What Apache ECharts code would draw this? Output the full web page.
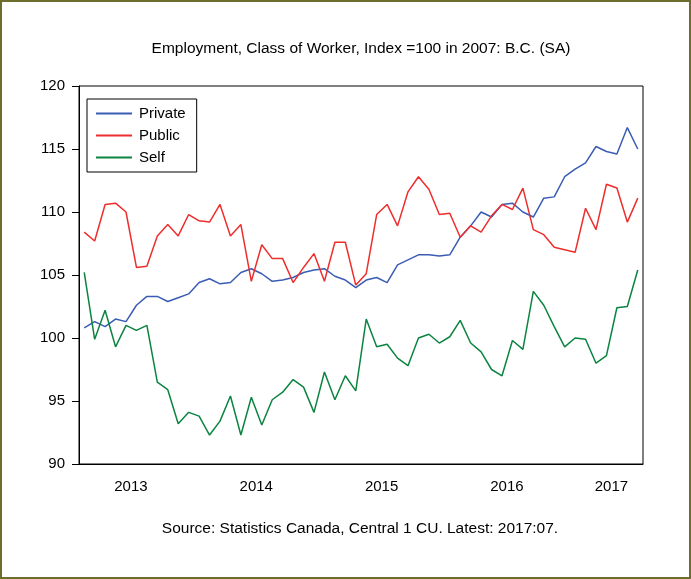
<!DOCTYPE html>
<html>
<head>
<meta charset="utf-8">
<script src="https://cdn.jsdelivr.net/npm/echarts@6/dist/echarts.min.js"></script>
<style>
html, body { margin: 0; padding: 0; background: #fff; }
#frame { width: 691px; height: 579px; box-sizing: border-box; border: 2px solid #6e6e2c; }
#chart { width: 687px; height: 575px; }
</style>
</head>
<body>
<div id="frame"><div id="chart"></div></div>
<script>
// monthly, seasonally adjusted, Feb 2013 .. Jul 2017
var months = [
  '2013:02','2013:03','2013:04','2013:05','2013:06','2013:07','2013:08','2013:09','2013:10','2013:11','2013:12',
  '2014:01','2014:02','2014:03','2014:04','2014:05','2014:06','2014:07','2014:08','2014:09','2014:10','2014:11','2014:12',
  '2015:01','2015:02','2015:03','2015:04','2015:05','2015:06','2015:07','2015:08','2015:09','2015:10','2015:11','2015:12',
  '2016:01','2016:02','2016:03','2016:04','2016:05','2016:06','2016:07','2016:08','2016:09','2016:10','2016:11','2016:12',
  '2017:01','2017:02','2017:03','2017:04','2017:05','2017:06','2017:07'
];

var privateIdx = [
  100.8, 101.3, 100.9, 101.5, 101.3, 102.6, 103.3, 103.3, 102.9, 103.2, 103.5,
  104.4, 104.7, 104.3, 104.4, 105.2, 105.5, 105.1, 104.5, 104.6, 104.8, 105.2,
  105.4, 105.5, 104.9, 104.6, 104.0, 104.6, 104.8, 104.4, 105.8, 106.2, 106.6,
  106.6, 106.5, 106.6, 108.0, 108.9, 110.0, 109.6, 110.6, 110.7, 110.0, 109.6,
  111.1, 111.2, 112.8, 113.4, 113.9, 115.2, 114.8, 114.6, 116.7, 115.0
];
var publicIdx = [
  108.4, 107.7, 110.6, 110.7, 110.0, 105.6, 105.7, 108.1, 109.0, 108.1, 109.8,
  109.3, 109.2, 110.6, 108.1, 109.0, 104.5, 107.4, 106.3, 106.3, 104.4, 105.6,
  106.7, 104.5, 107.6, 107.6, 104.2, 105.1, 109.8, 110.6, 108.9, 111.6, 112.8,
  111.8, 109.8, 109.9, 108.0, 108.9, 108.4, 109.7, 110.6, 110.2, 111.9, 108.6,
  108.2, 107.2, 107.0, 106.8, 110.3, 108.6, 112.2, 111.9, 109.2, 111.1
];
var selfIdx = [
  105.2, 99.9, 102.2, 99.3, 101.0, 100.6, 101.0, 96.5, 95.9, 93.2, 94.1,
  93.8, 92.3, 93.4, 95.4, 92.3, 95.3, 93.1, 95.1, 95.7, 96.7, 96.1,
  94.1, 97.3, 95.1, 97.0, 95.8, 101.5, 99.3, 99.5, 98.4, 97.8, 100.0,
  100.3, 99.6, 100.1, 101.4, 99.6, 98.9, 97.5, 97.0, 99.8, 99.1, 103.7,
  102.6, 100.9, 99.3, 100.0, 99.9, 98.0, 98.6, 102.4, 102.5, 105.4
];

// where the year labels sit
var yearLabelAt = ['2013:07', '2014:07', '2015:07', '2016:07', '2017:05'];

var titleText = 'Employment, Class of Worker, Index =100 in 2007: B.C. (SA)';
var sourceText = 'Source: Statistics Canada, Central 1 CU. Latest: 2017:07.';

var font = '"Liberation Sans", Arial, sans-serif';
var chart = echarts.init(document.getElementById('chart'));

var option = {
  animation: false,
  backgroundColor: '#fff',
  graphic: [
    { type: 'text', x: 359, y: 47, style: { text: titleText, fill: '#000', font: '15.5px ' + font, textAlign: 'center', textVerticalAlign: 'middle' } },
    { type: 'text', x: 358, y: 527, style: { text: sourceText, fill: '#000', font: '15.5px ' + font, textAlign: 'center', textVerticalAlign: 'middle' } }
  ],
  legend: {
    data: ['Private', 'Public', 'Self'],
    orient: 'vertical',
    left: 85,
    top: 97,
    icon: 'rect',
    itemWidth: 36,
    itemHeight: 2,
    itemGap: 7,
    padding: [7, 11, 7, 9],
    borderColor: '#000',
    borderWidth: 1,
    backgroundColor: '#fff',
    textStyle: { fontFamily: font, fontSize: 15, color: '#000', lineHeight: 15, padding: [0, 0, 0, 2] }
  },
  grid: [
    { left: 77, top: 84, width: 564, height: 378, show: true, borderColor: '#000', borderWidth: 1 },
    { left: 77, top: 84, width: 564, height: 378, show: false }
  ],
  xAxis: [
    {
      type: 'category',
      gridIndex: 0,
      data: months,
      boundaryGap: true,
      axisLine: { lineStyle: { color: '#000', width: 1 } },
      axisTick: { interval: 0, length: 4, lineStyle: { color: '#000' } },
      axisLabel: {
        interval: function (i, v) { return yearLabelAt.indexOf(v) >= 0; },
        formatter: function (v) { return v.slice(0, 4); },
        padding: [0, 11, 0, 0],
        margin: 15,
        fontFamily: font,
        fontSize: 15,
        color: '#000'
      },
      splitLine: { show: false }
    },
    {
      type: 'category',
      gridIndex: 1,
      data: months,
      boundaryGap: true,
      axisLine: { show: false },
      axisTick: {
        interval: function (i, v) { return v.slice(5) === '01'; },
        length: 8,
        lineStyle: { color: '#000' }
      },
      axisLabel: { show: false },
      splitLine: { show: false }
    }
  ],
  yAxis: [
    {
      type: 'value',
      gridIndex: 0,
      min: 90,
      max: 120,
      interval: 5,
      axisLine: { show: true, lineStyle: { color: '#000' } },
      axisTick: { show: true, length: 7, lineStyle: { color: '#000' } },
      axisLabel: { margin: 14, fontFamily: font, fontSize: 15, color: '#000' },
      splitLine: { show: false }
    },
    { type: 'value', gridIndex: 1, show: false }
  ],
  series: [
    { name: 'Private', type: 'line', data: privateIdx, symbol: 'none', color: '#3a5cb4', lineStyle: { width: 1.5 } },
    { name: 'Public', type: 'line', data: publicIdx, symbol: 'none', color: '#ee2d2d', lineStyle: { width: 1.5 } },
    { name: 'Self', type: 'line', data: selfIdx, symbol: 'none', color: '#0a8440', lineStyle: { width: 1.5 } }
  ]
};
chart.setOption(option);
</script>
</body>
</html>
